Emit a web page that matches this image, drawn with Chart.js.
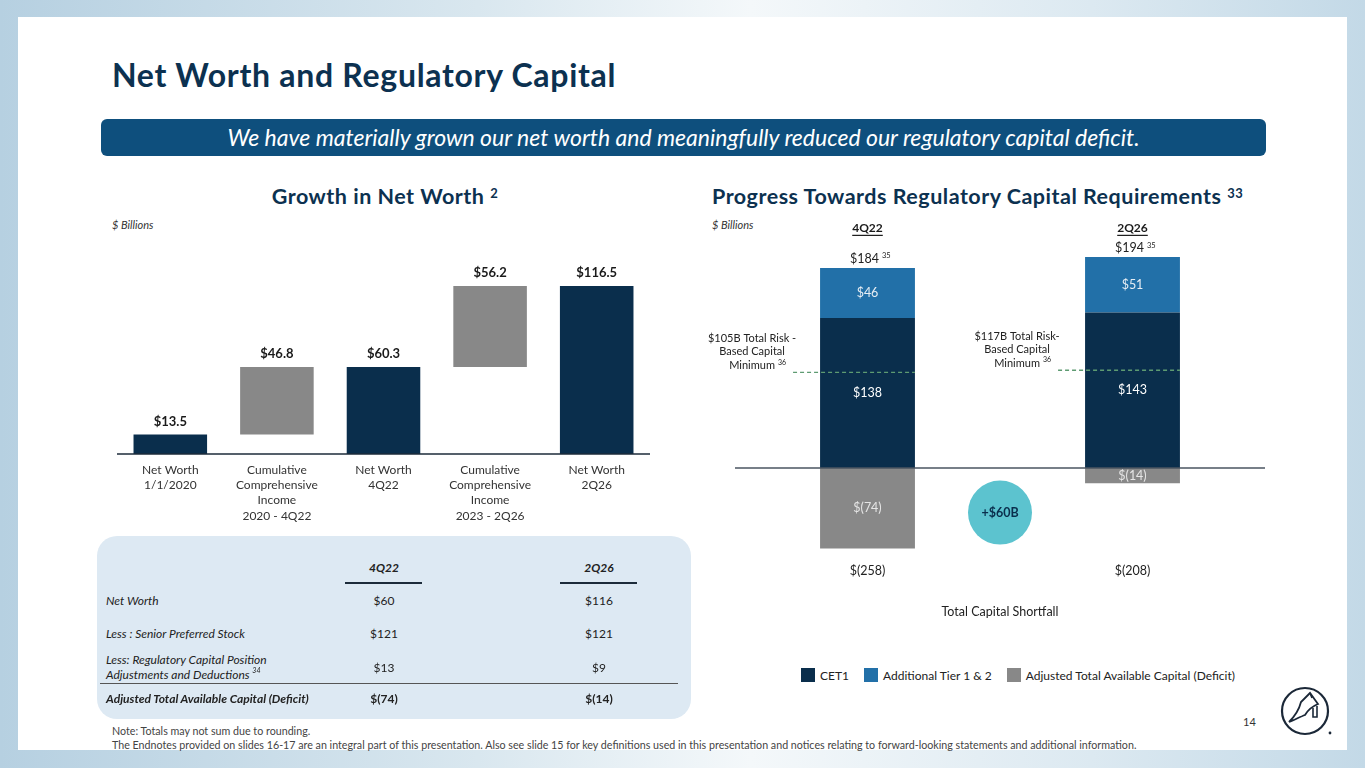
<!DOCTYPE html>
<html>
<head>
<meta charset="utf-8">
<script src="https://cdn.jsdelivr.net/npm/chart.js@4.4.0/dist/chart.umd.min.js"></script>
<style>
  body { margin:0; width:1365px; height:768px; overflow:hidden; position:relative;
    font-family: Lato, "Open Sans", sans-serif; color:#222;
    background: linear-gradient(90deg, #b6d0e1 0%, #d9e7ef 35%, #f4f8fa 55%, #dce9f1 80%, #c3d9e7 100%); }
  .abs { position:absolute; }
  #slide { left:18px; top:17px; width:1329px; height:733px; background:#fff; }
  #title { left:112px; top:57px; font-size:32px; letter-spacing:0.7px; font-weight:700; color:#0c3150; line-height:36px; white-space:nowrap; }
  #banner { left:101px; top:119px; width:1165px; height:37px; background:#0e4f7d; border-radius:6px;
    color:#fff; font-style:italic; font-size:23px; line-height:37px; text-align:center; white-space:nowrap; }
  .sec { font-size:21.5px; letter-spacing:0.5px; font-weight:700; color:#0c3150; line-height:24px; white-space:nowrap; }
  .sec sup { font-size:13px; vertical-align:top; position:relative; top:-3px; }
  .unit { font-size:11px; font-style:italic; color:#333; }
  #tbl { left:97px; top:536px; width:594px; height:183px; background:#dde9f3; border-radius:20px; }
  .cell { position:absolute; font-size:12px; line-height:15px; white-space:nowrap; color:#222; }
  .cell sup { font-size:7px; vertical-align:top; line-height:0; position:relative; top:3px; }
  .lbl { left:9px; font-style:italic; }
  .v1 { left:237px; width:100px; text-align:center; }
  .v2 { left:452px; width:100px; text-align:center; }
  .rule { position:absolute; height:2px; background:#1c2b3a; }
  #notes { left:112px; top:724px; font-size:10.7px; line-height:14px; color:#444; white-space:nowrap; }
  #legend { left:801px; top:668px; font-size:12px; color:#222; white-space:nowrap; }
  #legend span.box { display:inline-block; width:14px; height:14px; vertical-align:-2px; margin-right:5px; }
  #legend span.item { margin-right:15px; }
</style>
</head>
<body>
<div id="slide" class="abs"></div>
<div id="title" class="abs">Net Worth and Regulatory Capital</div>
<div id="banner" class="abs">We have materially grown our net worth and meaningfully reduced our regulatory capital deficit.</div>

<div class="abs sec" style="left:100px;width:570px;top:184px;text-align:center">Growth in Net Worth <sup>2</sup></div>
<div class="abs unit" style="left:112px;top:218px">$ Billions</div>
<div class="abs sec" style="left:712px;top:184px">Progress Towards Regulatory Capital Requirements <sup>33</sup></div>
<div class="abs unit" style="left:712px;top:218px">$ Billions</div>

<canvas id="nwChart" class="abs" width="570" height="290" style="left:100px;top:250px"></canvas>
<canvas id="capChart" class="abs" width="590" height="421" style="left:690px;top:215px"></canvas>
<div id="legend" class="abs"></div>

<div id="tbl" class="abs">
  <div class="cell v1" style="top:24px;font-weight:700;font-style:italic">4Q22</div>
  <div class="cell v2" style="top:24px;font-weight:700;font-style:italic">2Q26</div>
  <div class="rule" style="left:248px;width:77px;top:46px"></div>
  <div class="rule" style="left:463px;width:77px;top:46px"></div>
  <div class="cell lbl" style="top:57px">Net Worth</div>
  <div class="cell v1" style="top:57px">$60</div>
  <div class="cell v2" style="top:57px">$116</div>
  <div class="cell lbl" style="top:90px">Less : Senior Preferred Stock</div>
  <div class="cell v1" style="top:90px">$121</div>
  <div class="cell v2" style="top:90px">$121</div>
  <div class="cell lbl" style="top:116px">Less: Regulatory Capital Position<br>Adjustments and Deductions <sup>34</sup></div>
  <div class="cell v1" style="top:124px">$13</div>
  <div class="cell v2" style="top:124px">$9</div>
  <div class="rule" style="left:3px;width:578px;top:147px;height:1px;background:#555"></div>
  <div class="cell lbl" style="top:155px;font-weight:700">Adjusted Total Available Capital (Deficit)</div>
  <div class="cell v1" style="top:155px;font-weight:700">$(74)</div>
  <div class="cell v2" style="top:155px;font-weight:700">$(14)</div>
</div>

<div id="notes" class="abs">Note: Totals may not sum due to rounding.<br>The Endnotes provided on slides 16-17 are an integral part of this presentation. Also see slide 15 for key definitions used in this presentation and notices relating to forward-looking statements and additional information.</div>
<div class="abs" style="left:1243px;top:715px;font-size:11px;color:#333">14</div>

<svg class="abs" style="left:1277px;top:684px" width="60" height="56" viewBox="0 0 60 56">
  <circle cx="28" cy="27" r="23" fill="#fff" stroke="#1b2838" stroke-width="2.2"/>
  <path d="M12 38 C18 32 22 26 24 18 L33 9 L41 20 C36 22 31 26 28 31 C23 33 17 36 12 38 Z" fill="none" stroke="#1b2838" stroke-width="1.8"/>
  <path d="M33 9 L35 14 M36 24 L36 33 L40 33 L40 22" fill="none" stroke="#1b2838" stroke-width="1.6"/>
  <circle cx="53" cy="49" r="1.4" fill="#1b2838"/>
</svg>

<script>
// Growth in Net Worth (waterfall)
const nwCategories = [
  ['Net Worth', '1/1/2020'],
  ['Cumulative', 'Comprehensive', 'Income', '2020 - 4Q22'],
  ['Net Worth', '4Q22'],
  ['Cumulative', 'Comprehensive', 'Income', '2023 - 2Q26'],
  ['Net Worth', '2Q26']
];
const nwValues = [13.5, 46.8, 60.3, 56.2, 116.5];
const nwKinds = ['total', 'change', 'total', 'change', 'total'];

// Progress Towards Regulatory Capital Requirements
const periods = ['4Q22', '2Q26'];
const cet1 = [138, 143];
const tier12 = [46, 51];
const adjCapital = [-74, -14];
const totalCapital = [184, 194];
const capitalShortfall = [-258, -208];
const minimumText = [['$105B Total Risk -', 'Based Capital', 'Minimum'], ['$117B Total Risk-', 'Based Capital', 'Minimum']];
const minimumLevel = [88, 90];
const shortfallGain = '+$60B';

const NAVY = '#0a2e4c', MIDBLUE = '#2270a8', GREY = '#888888';
const FONT = 'Lato, "Open Sans", sans-serif';

function money(v) {
  return v < 0 ? '$(' + Math.abs(v) + ')' : '$' + v;
}

// floating ranges for waterfall
let running = 0;
const nwRanges = nwValues.map((v, i) => {
  if (nwKinds[i] === 'total') { running = v; return [0, v]; }
  const r = [running, running + v];
  running += v;
  return r;
});

const nwPlugin = {
  id: 'nwLabels',
  afterDatasetsDraw(chart) {
    const ctx = chart.ctx, y = chart.scales.y, area = chart.chartArea;
    ctx.save();
    ctx.strokeStyle = '#1c2b3a';
    ctx.lineWidth = 1.5;
    ctx.beginPath();
    ctx.moveTo(area.left, y.getPixelForValue(0));
    ctx.lineTo(area.right, y.getPixelForValue(0));
    ctx.stroke();
    ctx.font = 'bold 13px ' + FONT;
    ctx.fillStyle = '#1a1a1a';
    ctx.textAlign = 'center';
    ctx.textBaseline = 'middle';
    chart.getDatasetMeta(0).data.forEach((bar, i) => {
      const top = Math.min(bar.y, bar.base);
      ctx.fillText('$' + nwValues[i].toFixed(1), bar.x, top - 13);
    });
    ctx.restore();
  }
};

new Chart(document.getElementById('nwChart'), {
  type: 'bar',
  data: {
    labels: nwCategories,
    datasets: [{
      data: nwRanges,
      backgroundColor: nwKinds.map(k => k === 'total' ? NAVY : GREY),
      borderWidth: 0,
      categoryPercentage: 1,
      barPercentage: 0.69
    }]
  },
  options: {
    responsive: false,
    animation: false,
    layout: { padding: { left: 17, right: 20, top: 16.5, bottom: 0 } },
    plugins: { legend: { display: false }, tooltip: { enabled: false } },
    scales: {
      x: {
        grid: { display: false, drawTicks: false },
        border: { display: false },
        ticks: { color: '#333', padding: 8.5, font: { family: FONT, size: 12, lineHeight: 1.27 }, maxRotation: 0, autoSkip: false },
        afterFit(scale) { scale.height = 86; }
      },
      y: { display: false, min: 0, max: 130 }
    }
  },
  plugins: [nwPlugin]
});

const capPlugin = {
  id: 'capLabels',
  afterDatasetsDraw(chart) {
    const ctx = chart.ctx, y = chart.scales.y, area = chart.chartArea;
    const y0 = y.getPixelForValue(0);
    const cetBars = chart.getDatasetMeta(0).data;
    const tierBars = chart.getDatasetMeta(1).data;
    const defBars = chart.getDatasetMeta(2).data;
    ctx.save();
    ctx.textAlign = 'center';
    ctx.textBaseline = 'middle';

    // segment labels
    ctx.font = '12.5px ' + FONT;
    [[cetBars, cet1, '#ffffff'], [tierBars, tier12, '#e8eef4'], [defBars, adjCapital, '#e6e6e6']].forEach(([bars, vals, col]) => {
      ctx.fillStyle = col;
      bars.forEach((b, i) => ctx.fillText(money(vals[i]), b.x, (b.y + b.base) / 2));
    });

    // zero line
    ctx.strokeStyle = '#4a5560';
    ctx.lineWidth = 1.5;
    ctx.beginPath();
    ctx.moveTo(area.left, y0);
    ctx.lineTo(area.right, y0);
    ctx.stroke();

    tierBars.forEach((b, i) => {
      const half = b.width / 2;
      // period header
      ctx.font = 'bold 12px ' + FONT;
      ctx.fillStyle = '#1a1a1a';
      const hy = y.getPixelForValue(221);
      ctx.fillText(periods[i], b.x, hy);
      const hw = ctx.measureText(periods[i]).width;
      ctx.fillRect(b.x - hw / 2, hy + 7, hw, 1.2);

      // total on top
      ctx.font = '12.5px ' + FONT;
      ctx.fillStyle = '#222';
      const txt = money(totalCapital[i]);
      const tw = ctx.measureText(txt).width;
      ctx.fillText(txt, b.x - 3, y.getPixelForValue(totalCapital[i]) - 9);
      ctx.font = '7.5px ' + FONT;
      ctx.textAlign = 'left';
      ctx.fillText('35', b.x - 3 + tw / 2 + 3, y.getPixelForValue(totalCapital[i]) - 12);
      ctx.textAlign = 'center';

      // minimum dashed line
      const ly = y.getPixelForValue(minimumLevel[i]);
      ctx.strokeStyle = '#5e9b72';
      ctx.lineWidth = 1.4;
      ctx.setLineDash([4, 3]);
      ctx.beginPath();
      ctx.moveTo(b.x - half - 27, ly);
      ctx.lineTo(b.x + half, ly);
      ctx.stroke();
      ctx.setLineDash([]);

      // minimum label
      ctx.font = '11px ' + FONT;
      ctx.fillStyle = '#222';
      const lx = b.x - half - 68;
      minimumText[i].forEach((line, k) => {
        ctx.fillText(line, lx, ly - 34 + k * 13.5);
      });
      const mw = ctx.measureText('Minimum').width;
      ctx.font = '7px ' + FONT;
      ctx.textAlign = 'left';
      ctx.fillText('36', lx + mw / 2 + 3, ly - 10);
      ctx.textAlign = 'center';

      // shortfall below
      ctx.font = '12.5px ' + FONT;
      ctx.fillStyle = '#222';
      ctx.fillText(money(capitalShortfall[i]), b.x, y.getPixelForValue(-95));
    });

    // gain bubble between the bars
    const cx = (defBars[0].x + defBars[1].x) / 2;
    const cy = y.getPixelForValue(-41);
    ctx.fillStyle = '#5cc3cf';
    ctx.beginPath();
    ctx.arc(cx, cy, 32, 0, Math.PI * 2);
    ctx.fill();
    ctx.fillStyle = NAVY;
    ctx.font = 'bold 12.5px ' + FONT;
    ctx.fillText(shortfallGain, cx, cy);

    ctx.font = '12.5px ' + FONT;
    ctx.fillStyle = '#222';
    ctx.fillText('Total Capital Shortfall', (area.left + area.right) / 2, y.getPixelForValue(-132));
    ctx.restore();
  }
};

const capDatasets = [
  { label: 'CET1', data: cet1, backgroundColor: NAVY },
  { label: 'Additional Tier 1 & 2', data: tier12, backgroundColor: MIDBLUE },
  { label: 'Adjusted Total Available Capital (Deficit)', data: adjCapital, backgroundColor: GREY }
];

new Chart(document.getElementById('capChart'), {
  type: 'bar',
  data: {
    labels: periods,
    datasets: capDatasets.map(d => Object.assign({ borderWidth: 0, categoryPercentage: 1, barPercentage: 0.358 }, d))
  },
  options: {
    responsive: false,
    animation: false,
    layout: { padding: { left: 45, right: 15, top: 35.6, bottom: 15.8 } },
    plugins: { legend: { display: false }, tooltip: { enabled: false } },
    scales: {
      x: { display: false, stacked: true },
      y: { display: false, stacked: true, min: -140, max: 200 }
    }
  },
  plugins: [capPlugin]
});

document.getElementById('legend').innerHTML = capDatasets.map(d =>
  '<span class="item"><span class="box" style="background:' + d.backgroundColor + '"></span>' + d.label + '</span>'
).join('');
</script>
</body>
</html>
